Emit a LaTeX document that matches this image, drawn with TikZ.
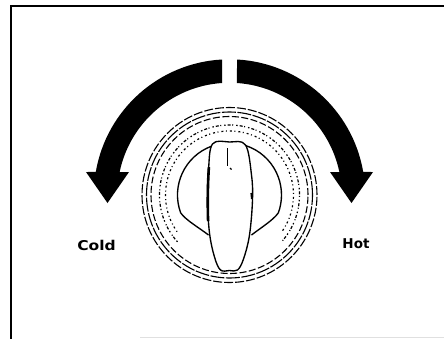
\documentclass[tikz,border=0pt]{standalone}
\usepackage{fontspec}
\newfontfamily\labelfont{DejaVu Sans}
\begin{document}
\begin{tikzpicture}[x=1pt,y=1pt,
  frameline/.style={line width=2pt,black},
  turnarrow/.style={fill=black},
  ringline/.style={line width=1.1pt,black},
  knobline/.style={line width=1.35pt,black,line join=round},
  scalemark/.style={line width=1.2pt,black},
  dirlabel/.style={font=\labelfont\bfseries\fontsize{13.5}{14}\selectfont,inner sep=0pt}]
% page: dial centre at the origin
\useasboundingbox (-229.5,-143) rectangle (214.5,195);
% panel frame (runs off the right and bottom edges)
\draw[frameline] (-218.7,-150) -- (-218.7,188.8) -- (220,188.8);
\draw[line width=0.8pt,black!12] (-89.5,-142.6) -- (220,-142.6);
% left-hand turning arrow; the right one is its mirror image
\foreach \s in {1,-1}{
  \begin{scope}[xscale=\s]
    \fill[turnarrow] (-7.5,135.5) arc[start angle=93.17, end angle=170.24, radius=135.7]
      -- (-143.5,23) -- (-122,-8) -- (-100.5,23)
      -- (168.18:112.25) arc[start angle=168.18, end angle=93.83, radius=112.25] -- cycle;
  \end{scope}
}
% bezel rings
\draw[ringline,dash pattern=on 9pt off 2pt] (0,0) circle[radius=87.5];
\draw[ringline,dash pattern=on 14pt off 1.5pt] (0,0) circle[radius=83];
\draw[ringline,dash pattern=on 7pt off 2.5pt] (0,0) circle[radius=78.5];
% printed scale around the knob
\draw[scalemark,dash pattern=on 1.5pt off 2pt on 3pt off 1.5pt on 1pt off 3pt]
  (222:70) arc[start angle=222, end angle=-42, radius=70];
\draw[scalemark,dash pattern=on 1pt off 3pt on 2pt off 2.5pt]
  (215:64) arc[start angle=215, end angle=-35, radius=64];
% knob body
\draw[knobline] (-21,-40) .. controls (-30,-33) and (-44,-25) .. (200:52)
  arc[start angle=200, end angle=-20, radius=52]
  .. controls (44,-25) and (31,-33) .. (22,-40);
% pointer grip
\draw[knobline,fill=white] plot[smooth cycle,tension=0.6] coordinates {
  (-17,51) (-21,25) (-22,-5) (-20,-38) (-15,-62) (-9,-75) (0,-75.5) (8,-75)
  (14,-64) (20,-40) (23,-5) (22,20) (16,50) (0,53)};
\draw[line width=2.6pt] (-20.6,28) .. controls (-21.8,10) and (-22,-10) .. (-21.4,-26);
\draw[line width=1.8pt] (21.8,2) -- (22.4,-4);
% index mark on the grip
\draw[line width=1.2pt] (-2,47) -- (-2,29);
\draw[line width=1.2pt] (0.5,27) -- (2,25.5);
% direction labels
\node[dirlabel] (cold) at (-133,-50) {\scalebox{1.15}[1]{Cold}};
\node[dirlabel] (hot) at (126.5,-49) {Hot};
\end{tikzpicture}
\end{document}
